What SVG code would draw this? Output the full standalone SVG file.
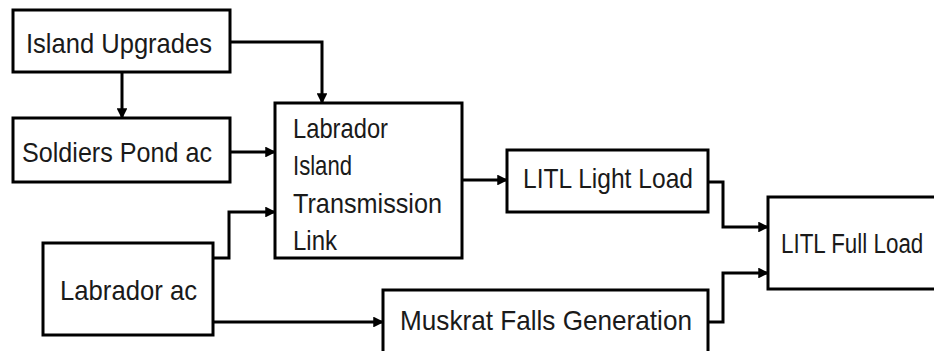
<svg xmlns="http://www.w3.org/2000/svg" width="934" height="351" viewBox="0 0 934 351">
<style>
.box{fill:#fff;stroke:#000;stroke-width:3}
.t{font-family:"Liberation Sans",Arial,sans-serif;font-size:28px;fill:#1a1a1a}
.c{fill:none;stroke:#000;stroke-width:3;marker-end:url(#ah)}
</style>
<defs>
<marker id="ah" viewBox="0 0 10 10" refX="9" refY="5" markerWidth="4" markerHeight="3.6" orient="auto" markerUnits="strokeWidth">
<path d="M0,0 L10,5 L0,10 z" fill="#000"/>
</marker>
</defs>
<rect width="934" height="351" fill="#fff"/>
<g id="connectors">
<path class="c" d="M122,72 V118"/>
<path class="c" d="M230,42 H322 V103"/>
<path class="c" d="M230,152 H275"/>
<path class="c" d="M213,258 H229 V212 H275"/>
<path class="c" d="M213,322 H383"/>
<path class="c" d="M462,180 H507"/>
<path class="c" d="M708,182 H723 V227 H768"/>
<path class="c" d="M708,322 H723 V273 H768"/>
</g>
<g id="island-upgrades">
<rect class="box" x="13" y="10" width="217" height="62"/>
<text class="t" x="26" y="53" textLength="186" lengthAdjust="spacingAndGlyphs">Island Upgrades</text>
</g>
<g id="soldiers-pond">
<rect class="box" x="13" y="118" width="217" height="64"/>
<text class="t" x="22" y="162" textLength="190" lengthAdjust="spacingAndGlyphs">Soldiers Pond ac</text>
</g>
<g id="litl">
<rect class="box" x="275" y="103" width="187" height="155"/>
<text class="t" x="293" y="138" textLength="95" lengthAdjust="spacingAndGlyphs">Labrador</text>
<text class="t" x="293" y="175" textLength="59" lengthAdjust="spacingAndGlyphs">Island</text>
<text class="t" x="293" y="213" textLength="149" lengthAdjust="spacingAndGlyphs">Transmission</text>
<text class="t" x="293" y="250" textLength="44" lengthAdjust="spacingAndGlyphs">Link</text>
</g>
<g id="labrador-ac">
<rect class="box" x="43" y="243" width="170" height="92"/>
<text class="t" x="60" y="300" textLength="137" lengthAdjust="spacingAndGlyphs">Labrador ac</text>
</g>
<g id="muskrat-falls">
<rect class="box" x="383" y="290" width="325" height="80"/>
<text class="t" x="400" y="330" textLength="292" lengthAdjust="spacingAndGlyphs">Muskrat Falls Generation</text>
</g>
<g id="litl-full-load">
<rect class="box" x="768" y="197" width="190" height="92"/>
<text class="t" transform="translate(781,253) scale(0.8,1)">LITL Full Load</text>
</g>
<g id="litl-light-load">
<rect class="box" x="507" y="150" width="201" height="62"/>
<text class="t" x="523" y="188" textLength="170" lengthAdjust="spacingAndGlyphs">LITL Light Load</text>
</g>
</svg>
